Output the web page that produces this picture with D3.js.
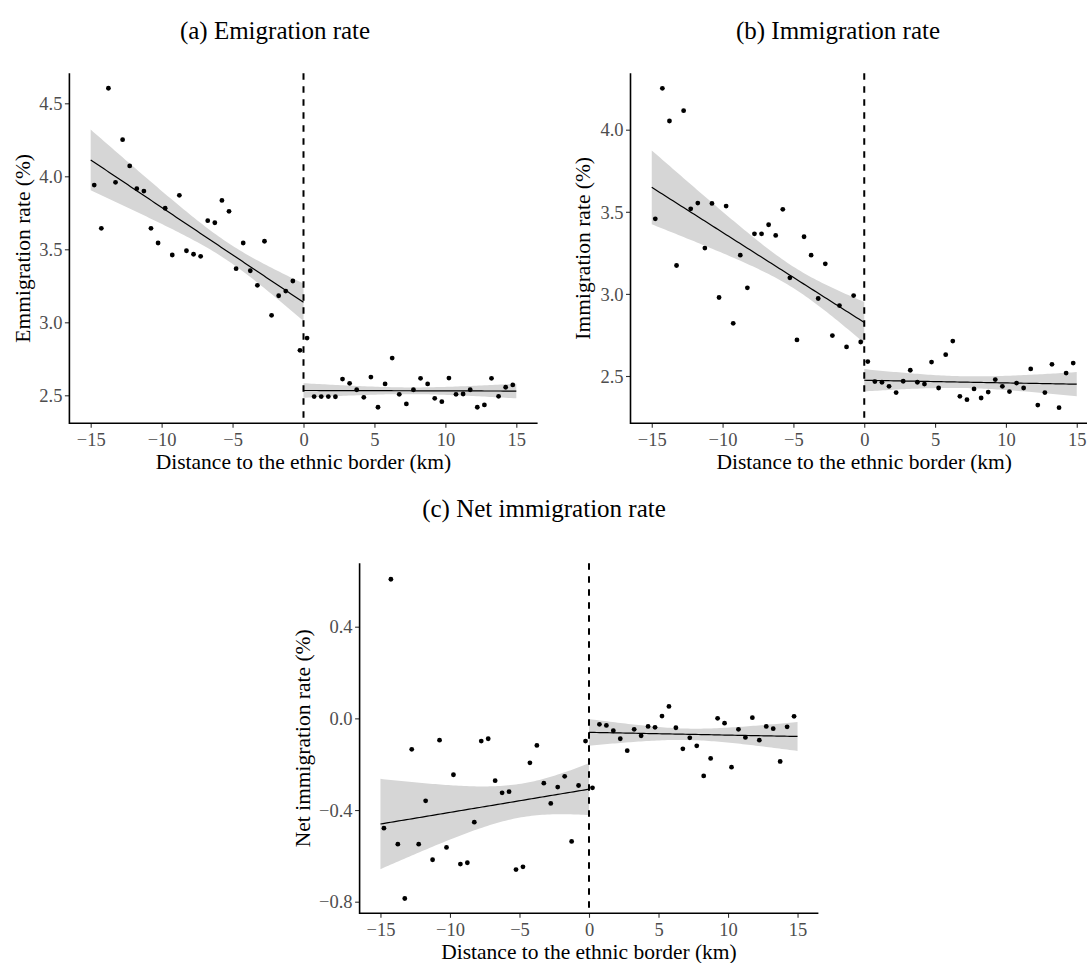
<!DOCTYPE html>
<html>
<head>
<meta charset="utf-8">
<script src="https://cdn.jsdelivr.net/npm/d3@7"></script>
<style>
  html, body { margin: 0; padding: 0; background: #fff; }
  svg { display: block; }
  text { font-family: "Liberation Serif", "Times New Roman", serif; }
</style>
</head>
<body>
<svg id="chart" width="1087" height="963"></svg>
<script>
// ---------------- DATA ----------------
const distLeft  = [-14.75,-14.25,-13.75,-13.25,-12.75,-12.25,-11.75,-11.25,-10.75,-10.25,
                   -9.75,-9.25,-8.75,-8.25,-7.75,-7.25,-6.75,-6.25,-5.75,-5.25,
                   -4.75,-4.25,-3.75,-3.25,-2.75,-2.25,-1.75,-1.25,-0.75,-0.25];
const distRight = [0.25,0.75,1.25,1.75,2.25,2.75,3.25,3.75,4.25,4.75,
                   5.25,5.75,6.25,6.75,7.25,7.75,8.25,8.75,9.25,9.75,
                   10.25,10.75,11.25,11.75,12.25,12.75,13.25,13.75,14.25,14.75];

const emigLeft  = [3.94,3.644,4.603,3.959,4.251,4.071,3.915,3.899,3.644,3.543,
                   3.781,3.461,3.87,3.49,3.466,3.452,3.696,3.682,3.835,3.76,
                   3.367,3.543,3.353,3.253,3.555,3.048,3.182,3.214,3.283,2.808];
const emigRight = [2.892,2.491,2.491,2.491,2.49,2.611,2.582,2.538,2.486,2.625,
                   2.418,2.578,2.755,2.507,2.441,2.538,2.616,2.578,2.479,2.456,
                   2.618,2.507,2.509,2.538,2.418,2.434,2.616,2.493,2.555,2.571];

const immLeft   = [3.457,4.252,4.053,3.173,4.116,3.518,3.553,3.279,3.551,2.978,
                   3.535,2.821,3.236,3.037,3.366,3.366,3.421,3.356,3.515,3.098,
                   2.72,3.348,3.236,2.972,3.183,2.746,2.929,2.677,2.99,2.707];
const immRight  = [2.588,2.466,2.462,2.437,2.399,2.468,2.535,2.462,2.451,2.585,
                   2.427,2.63,2.713,2.376,2.356,2.421,2.366,2.402,2.478,2.437,
                   2.405,2.457,2.427,2.543,2.323,2.399,2.571,2.307,2.518,2.579];

const netLeft   = [-0.479,0.607,-0.549,-0.786,-0.135,-0.549,-0.36,-0.617,-0.095,-0.563,
                   -0.246,-0.636,-0.63,-0.453,-0.099,-0.089,-0.272,-0.325,-0.32,-0.66,
                   -0.648,-0.194,-0.118,-0.283,-0.371,-0.3,-0.253,-0.537,-0.293,-0.099];
const netRight  = [-0.303,-0.026,-0.031,-0.054,-0.089,-0.141,-0.048,-0.076,-0.035,-0.039,
                   0.01,0.052,-0.041,-0.133,-0.085,-0.12,-0.251,-0.175,0.0,-0.021,
                   -0.213,-0.048,-0.083,0.003,-0.095,-0.035,-0.045,-0.188,-0.037,0.009];

// linear fits (value at start / end of each side) and 95% band half-widths (start, middle, end)
const fitRangeLeft  = [-15, 0];
const fitRangeRight = [0, 15];
const fitLineEmig   = [[4.112, 3.137], [2.533, 2.529]];
const fitBandEmig   = [[0.208, 0.075, 0.128], [0.050, 0.023, 0.050]];
const fitLineImm    = [[3.649, 2.826], [2.474, 2.450]];
const fitBandImm    = [[0.225, 0.085, 0.125], [0.068, 0.036, 0.074]];
const fitLineNet    = [[-0.461, -0.309], [-0.061, -0.079]];
const fitBandNet    = [[0.197, 0.088, 0.113], [0.058, 0.025, 0.063]];

const xTicks  = [-15,-10,-5,0,5,10,15];
const yTicksA = [2.5,3.0,3.5,4.0,4.5];
const yTicksB = [2.5,3.0,3.5,4.0];
const yTicksC = [-0.8,-0.4,0.0,0.4];

const titles  = ["(a) Emigration rate", "(b) Immigration rate", "(c) Net immigration rate"];
const yTitles = ["Emmigration rate (%)", "Immigration rate (%)", "Net immigration rate (%)"];
const xTitle  = "Distance to the ethnic border (km)";

// ---------------- HELPERS ----------------
const svg = d3.select("#chart");

// band: line linear between ends; variance of band quadratic through the 3 given half-widths
function fitBand(range, line, half) {
  const [x0, x2] = range, x1 = (x0 + x2) / 2;
  const v = half.map(h => h*h);
  const q = x => v[0]*((x-x1)*(x-x2))/((x0-x1)*(x0-x2))
               + v[1]*((x-x0)*(x-x2))/((x1-x0)*(x1-x2))
               + v[2]*((x-x0)*(x-x1))/((x2-x0)*(x2-x1));
  const pts = [];
  const steps = 80;
  for (let k = 0; k <= steps; k++) {
    const x = x0 + (x2 - x0) * k / steps;
    const yhat = line[0] + (line[1] - line[0]) * (x - x0) / (x2 - x0);
    const hw = Math.sqrt(Math.max(q(x), 1e-6));
    pts.push({x, y: yhat, lo: yhat - hw, hi: yhat + hw});
  }
  return pts;
}

function panel(cfg) {
  const g = svg.append("g");
  const x = d3.scaleLinear().domain([-16.5, 16.5]).range([cfg.left, cfg.right]);
  const y = d3.scaleLinear().domain(cfg.yDomain).range([cfg.bottom, cfg.top]);

  svg.append("text").attr("x", cfg.titleX).attr("y", cfg.titleY)
    .attr("text-anchor", "middle").attr("font-size", 25).attr("fill", "#000")
    .text(cfg.title);

  const ranges = [fitRangeLeft, fitRangeRight];
  ranges.forEach((rng, i) => {
    const band = fitBand(rng, cfg.fitLine[i], cfg.fitBand[i]);
    g.append("path").datum(band)
      .attr("fill", "#d6d6d6").attr("stroke", "none")
      .attr("d", d3.area().x(d => x(d.x)).y0(d => y(d.lo)).y1(d => y(d.hi)));
    g.append("path").datum(band)
      .attr("fill", "none").attr("stroke", "#000").attr("stroke-width", 1.2)
      .attr("d", d3.line().x(d => x(d.x)).y(d => y(d.y)));
  });

  [[distLeft, cfg.yl], [distRight, cfg.yr]].forEach(([xs, ys]) => {
    g.selectAll(null).data(xs.map((d, i) => [d, ys[i]])).enter().append("circle")
      .attr("cx", d => x(d[0])).attr("cy", d => y(d[1])).attr("r", 2.4).attr("fill", "#000");
  });

  g.append("line").attr("x1", x(0)).attr("x2", x(0))
    .attr("y1", cfg.top).attr("y2", cfg.bottom)
    .attr("stroke", "#000").attr("stroke-width", 2).attr("stroke-dasharray", "6.5,6.5");

  const xAxis = d3.axisBottom(x).tickValues(xTicks).tickSizeOuter(0).tickSize(4.5)
    .tickFormat(d => d < 0 ? "\u2212" + Math.abs(d) : d);
  const gx = g.append("g").attr("transform", `translate(0,${cfg.bottom})`).call(xAxis);
  const yAxis = d3.axisLeft(y).tickValues(cfg.yTicks).tickSizeOuter(0).tickSize(4.5)
    .tickFormat(d => (d < 0 ? "\u2212" : "") + Math.abs(d).toFixed(1));
  const gy = g.append("g").attr("transform", `translate(${cfg.left},0)`).call(yAxis);
  [gx, gy].forEach(a => {
    a.select(".domain").remove();
    a.selectAll(".tick line").attr("stroke", "#333").attr("stroke-width", 1.1);
    a.selectAll(".tick text").attr("fill", "#4d4d4d").attr("font-size", 18.5)
      .attr("font-family", "Liberation Serif, serif");
  });
  gx.selectAll(".tick text").attr("dy", null).attr("y", 23);
  gy.selectAll(".tick text").attr("x", -7).attr("dy", "0.34em");

  g.append("line").attr("x1", cfg.left).attr("x2", cfg.right)
    .attr("y1", cfg.bottom).attr("y2", cfg.bottom).attr("stroke", "#000").attr("stroke-width", 1.6);
  g.append("line").attr("x1", cfg.left).attr("x2", cfg.left)
    .attr("y1", cfg.top).attr("y2", cfg.bottom + 0.8).attr("stroke", "#000").attr("stroke-width", 1.6);

  svg.append("text").attr("x", x(0)).attr("y", cfg.bottom + 46)
    .attr("text-anchor", "middle").attr("font-size", 21.5).attr("fill", "#000").text(xTitle);
  svg.append("text")
    .attr("transform", `translate(${cfg.yTitleX},${(cfg.top + cfg.bottom)/2}) rotate(-90)`)
    .attr("text-anchor", "middle").attr("font-size", 21.5).attr("fill", "#000").text(cfg.yTitle);
}

function dom(v1, p1, v2, p2, top, bottom) {
  const k = (v2 - v1) / (p1 - p2);
  return [v1 - (bottom - p1) * k, v1 + (p1 - top) * k];
}

panel({ title: titles[0], titleX: 275, titleY: 39, left: 69.4, right: 537.6, top: 73.3, bottom: 423.3,
  yDomain: dom(2.5, 395.3, 4.5, 103.3, 73.3, 423.3), yTicks: yTicksA, yl: emigLeft, yr: emigRight,
  fitLine: fitLineEmig, fitBand: fitBandEmig, yTitle: yTitles[0], yTitleX: 30 });
panel({ title: titles[1], titleX: 838, titleY: 39, left: 630.5, right: 1098, top: 73.3, bottom: 423.3,
  yDomain: dom(2.5, 376, 4.0, 129.7, 73.3, 423.3), yTicks: yTicksB, yl: immLeft, yr: immRight,
  fitLine: fitLineImm, fitBand: fitBandImm, yTitle: yTitles[1], yTitleX: 590 });
panel({ title: titles[2], titleX: 544, titleY: 517, left: 359.6, right: 818.4, top: 563.3, bottom: 913.3,
  yDomain: dom(-0.8, 901.7, 0.4, 626.7, 563.3, 913.3), yTicks: yTicksC, yl: netLeft, yr: netRight,
  fitLine: fitLineNet, fitBand: fitBandNet, yTitle: yTitles[2], yTitleX: 310 });
</script>
</body>
</html>
